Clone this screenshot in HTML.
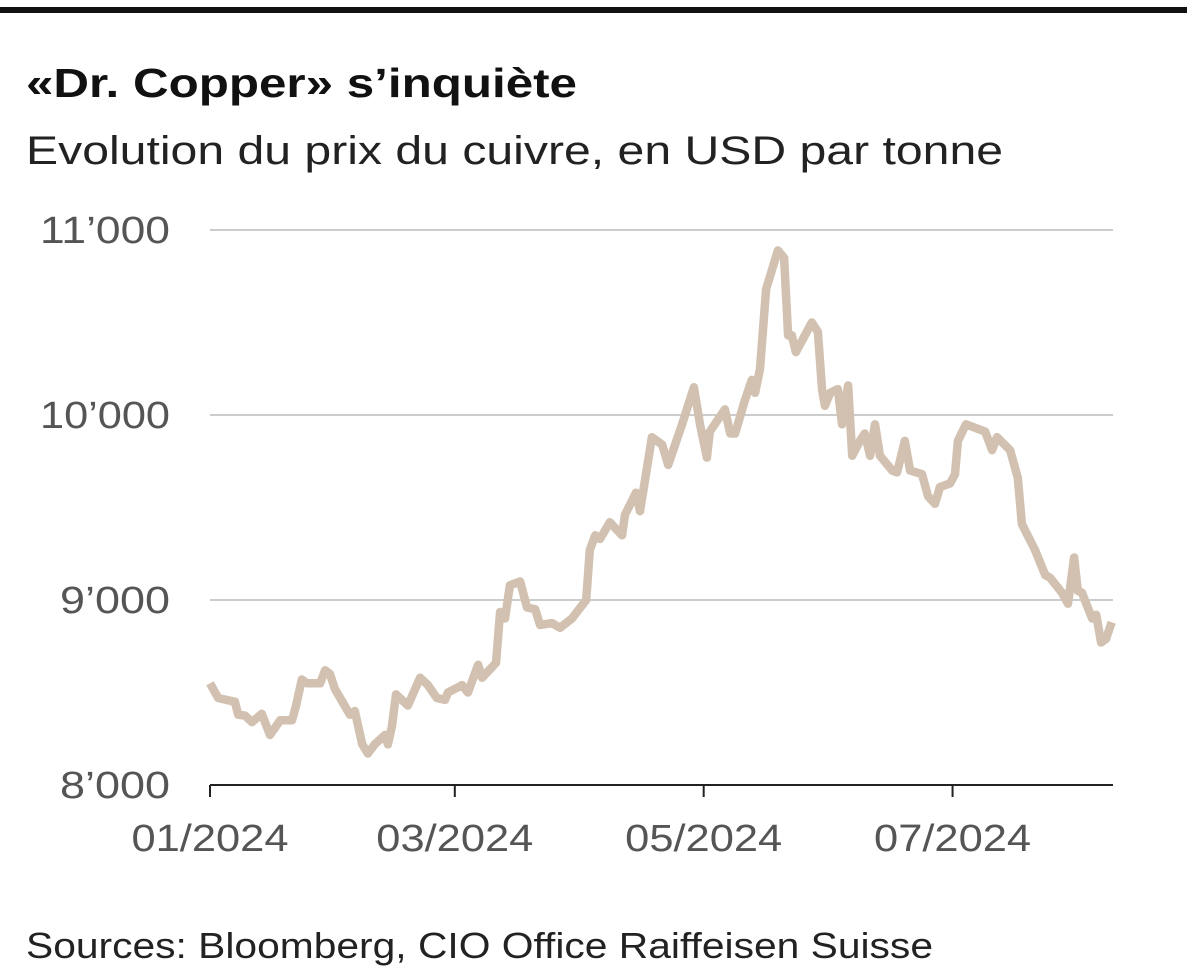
<!DOCTYPE html>
<html><head><meta charset="utf-8"><style>
body{margin:0;background:#fff;width:1193px;height:977px;overflow:hidden;font-family:"Liberation Sans",sans-serif;}
svg{display:block}
</style></head><body>
<svg width="1193" height="977" id="chart">
<rect x="0" y="7" width="1187" height="6" fill="#111"/>
<text x="26" y="97" font-size="41" font-weight="bold" fill="#111" textLength="551" lengthAdjust="spacingAndGlyphs">«Dr. Copper» s’inquiète</text>
<text x="26" y="164" font-size="40" fill="#222" textLength="977" lengthAdjust="spacingAndGlyphs">Evolution du prix du cuivre, en USD par tonne</text>
<g id="grid"></g><g id="xaxis"></g>
<path id="line" fill="none" stroke="#d2c1b0" stroke-width="8.5" stroke-linejoin="round"/>
<text x="26" y="958" font-size="36" fill="#222" textLength="907" lengthAdjust="spacingAndGlyphs">Sources: Bloomberg, CIO Office Raiffeisen Suisse</text>
</svg>
<script>
const days=[0,2,6.1,6.9,8.6,10.3,12.7,14.7,17.2,20.1,21.1,22.5,23.8,27,28.2,29.4,30.6,34.3,35.5,37.3,38.7,40.4,42.9,43.6,44.6,45.6,48.5,51.5,53.4,55.6,57.6,58.3,61.8,63.2,65.7,66.7,70.1,71.1,72.3,73.5,76,77.7,79.7,80.9,83.8,85.8,88.7,92.2,93.1,94.4,95.6,98,101,101.7,104.4,105.4,108.3,110.8,112.3,115.7,118.6,120.1,121.8,122.5,126.2,127.5,128.7,131.1,132.8,133.6,134.8,136.3,139.2,140.7,141.7,142.6,143.6,147.5,149,150,150.7,152,153.9,154.9,156.4,157.4,159.3,160.5,161.8,163,164.2,167.2,168.4,170.3,171.6,174.5,176,177.7,178.9,181.4,182.6,183.3,185.3,190,191.7,192.9,196.1,198,199,202.2,204.7,205.9,208.8,210.3,211.8,212.7,213.7,216.2,217.2,218.4,219.6,221];
const prices=[8550,8470,8450,8380,8375,8340,8385,8270,8350,8350,8430,8570,8550,8550,8620,8600,8520,8380,8400,8220,8170,8220,8270,8220,8320,8490,8430,8580,8540,8470,8460,8500,8540,8500,8650,8580,8660,8935,8900,9080,9100,8960,8950,8865,8875,8850,8900,9000,9270,9350,9330,9420,9350,9460,9580,9480,9880,9840,9730,9950,10150,9950,9770,9910,10030,9900,9900,10080,10190,10120,10250,10680,10890,10850,10430,10430,10340,10500,10450,10140,10050,10120,10140,9950,10160,9780,9860,9900,9780,9950,9780,9700,9690,9860,9700,9680,9560,9520,9610,9630,9680,9860,9950,9910,9810,9880,9810,9660,9410,9270,9135,9120,9040,8980,9230,9050,9040,8900,8920,8770,8790,8880];
const yTicks=[8000,9000,10000,11000];
const yTickLabels=["8’000","9’000","10’000","11’000"];
const xTickDays=[0,60,121,182];
const xTickLabels=["01/2024","03/2024","05/2024","07/2024"];
const NS="http://www.w3.org/2000/svg";
const xs=d=>210+d*4.08;
const ys=v=>785-(v-8000)*0.185;
const grid=document.getElementById('grid'),xa=document.getElementById('xaxis');
yTicks.forEach((t,i)=>{
 if(t>8000){const l=document.createElementNS(NS,'line');
 l.setAttribute('x1',210);l.setAttribute('x2',1113);l.setAttribute('y1',ys(t));l.setAttribute('y2',ys(t));
 l.setAttribute('stroke','#bbb');l.setAttribute('stroke-width',1.5);
 
 
 grid.appendChild(l);}
 const tx=document.createElementNS(NS,'text');
 const w=yTickLabels[i].length>5?130:110;
 tx.setAttribute('x',170-w);tx.setAttribute('y',ys(t)+13);
 tx.setAttribute('textLength',w);tx.setAttribute('lengthAdjust','spacingAndGlyphs');
 tx.setAttribute('font-size',38);tx.setAttribute('fill','#555');tx.textContent=yTickLabels[i];
 
 
 grid.appendChild(tx);
});
const ax=document.createElementNS(NS,'line');
ax.setAttribute('x1',210);ax.setAttribute('x2',1113);ax.setAttribute('y1',785);ax.setAttribute('y2',785);
ax.setAttribute('stroke','#222');ax.setAttribute('stroke-width',2);


xa.appendChild(ax);
xTickDays.forEach((d,i)=>{
 const tk=document.createElementNS(NS,'line');
 tk.setAttribute('x1',xs(d));tk.setAttribute('x2',xs(d));tk.setAttribute('y1',785);tk.setAttribute('y2',797);
 tk.setAttribute('stroke','#222');tk.setAttribute('stroke-width',2);
 
 
 xa.appendChild(tk);
 const tx=document.createElementNS(NS,'text');
 tx.setAttribute('x',xs(d)-78.5);tx.setAttribute('y',851);
 tx.setAttribute('textLength',157);tx.setAttribute('lengthAdjust','spacingAndGlyphs');
 tx.setAttribute('font-size',38);tx.setAttribute('fill','#555');tx.textContent=xTickLabels[i];
 
 
 xa.appendChild(tx);
});
document.getElementById('line').setAttribute('d',days.map((d,i)=>(i?'L':'M')+xs(d).toFixed(1)+','+ys(prices[i]).toFixed(1)).join(''));
</script>
</body></html>
